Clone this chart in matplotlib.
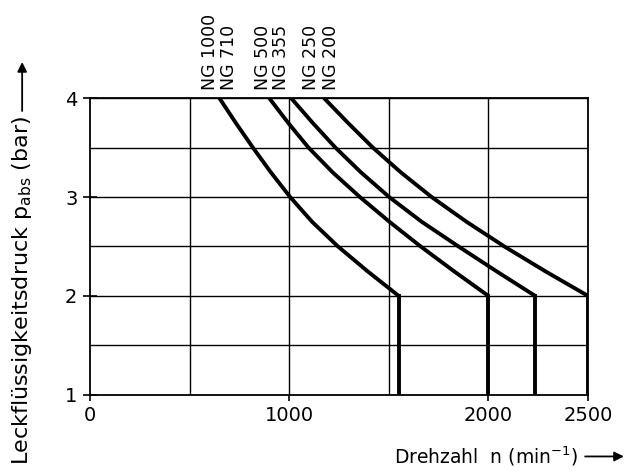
import matplotlib
matplotlib.use("Agg")
import matplotlib.pyplot as plt

plt.rcParams['font.family'] = ['DejaVu Sans']

# pressure levels (bar)
p = [4.0, 3.75, 3.5, 3.25, 3.0, 2.75, 2.5, 2.25, 2.0]

# speed at each pressure level (min^-1)
n_1000_710 = [650, 732, 818, 908, 1005, 1115, 1245, 1393, 1550]
n_500 = [900, 995, 1097, 1218, 1355, 1503, 1660, 1827, 2000]
n_355_250 = [1010, 1118, 1232, 1360, 1502, 1665, 1850, 2040, 2235]
n_200 = [1175, 1295, 1420, 1560, 1715, 1890, 2080, 2285, 2500]
curves = [n_1000_710, n_500, n_355_250, n_200]

ng_labels = ["NG 1000", "NG 710", "NG 500", "NG 355", "NG 250", "NG 200"]
ng_label_x = [605, 700, 870, 960, 1110, 1210]

x_grid = [500, 1000, 1500, 2000, 2500]
y_grid = [1.5, 2.0, 2.5, 3.0, 3.5, 4.0]
x_ticks = [0, 1000, 2000, 2500]
y_ticks = [1, 2, 3, 4]

fig = plt.figure(figsize=(6.33, 4.74), dpi=100)
ax = fig.add_axes([0.142, 0.167, 0.787, 0.626])

for xg in x_grid:
    ax.axvline(xg, color='k', lw=1.0, zorder=1)
for yg in y_grid:
    ax.axhline(yg, color='k', lw=1.0, zorder=1)

for n in curves:
    ax.plot(n, p, color='k', lw=2.8, solid_capstyle='butt', solid_joinstyle='round', zorder=3)
    ax.plot([n[-1], n[-1]], [p[-1], 1.0], color='k', lw=2.8, zorder=3)

for lbl, xl in zip(ng_labels, ng_label_x):
    ax.text(xl, 4.08, lbl, rotation=90, ha='center', va='bottom',
            fontsize=12.5, clip_on=False)

ax.set_xlim(0, 2500)
ax.set_ylim(1, 4)
ax.set_xticks(x_ticks)
ax.set_yticks(y_ticks)
ax.tick_params(axis='both', labelsize=14, color='k', width=1.2)
ax.tick_params(axis='y', direction='inout', length=10, pad=4)
ax.tick_params(axis='x', direction='out', length=4, pad=4)
for s in ax.spines.values():
    s.set_linewidth(1.3)

# axis labels with arrows
fig.text(0.035, 0.02, r"Leckflüssigkeitsdruck p$_{\rm abs}$ (bar)", rotation=90,
         ha='center', va='bottom', fontsize=16)
ax.annotate('', xy=(0.035, 0.875), xytext=(0.035, 0.76), xycoords='figure fraction',
            arrowprops=dict(arrowstyle='-|>', color='k', lw=1.3, mutation_scale=14))
fig.text(0.622, 0.037, r"Drehzahl  n (min$^{-1}$)", ha='left', va='center', fontsize=13.5)
ax.annotate('', xy=(0.99, 0.037), xytext=(0.92, 0.037), xycoords='figure fraction',
            arrowprops=dict(arrowstyle='-|>', color='k', lw=1.3, mutation_scale=14))

fig.savefig("out.png", dpi=100)
